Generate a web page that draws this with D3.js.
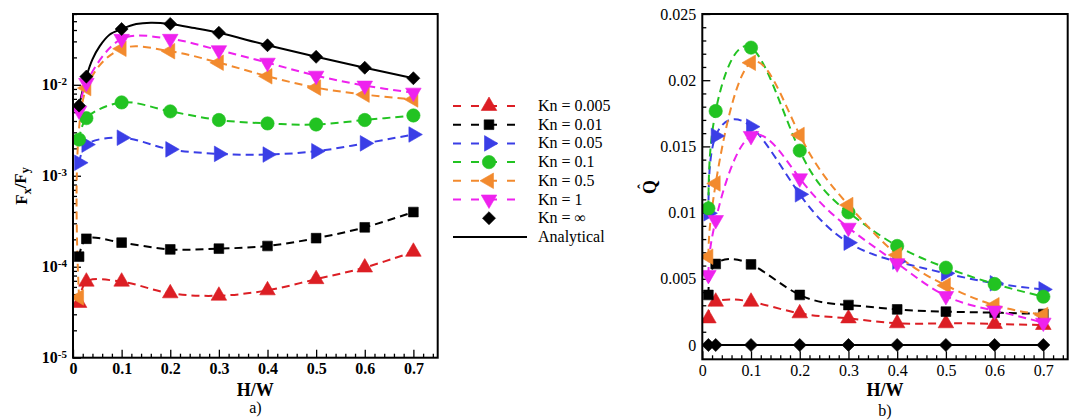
<!DOCTYPE html>
<html>
<head>
<meta charset="utf-8">
<script src="https://cdn.jsdelivr.net/npm/d3@7"></script>
<style>
  body { margin: 0; background: #fff; }
  svg { display: block; }
</style>
</head>
<body>
<svg id="chart" width="1073" height="420"></svg>
<script>
// H/W values where the simulations were run
const hw = [0.0125, 0.0275, 0.1, 0.2, 0.3, 0.4, 0.5, 0.6, 0.7];

// Panel a) : F_x/F_y (log scale)
const forceKn0005 = [4.0e-5, 6.85e-5, 6.85e-5, 5.1e-5, 4.8e-5, 5.5e-5, 7.3e-5, 9.8e-5, 1.46e-4];
const forceKn001 = [1.29e-4, 2.03e-4, 1.84e-4, 1.55e-4, 1.58e-4, 1.69e-4, 2.06e-4, 2.71e-4, 3.99e-4];
const forceKn005 = [0.00139, 0.0022, 0.00262, 0.00195, 0.00174, 0.00171, 0.00186, 0.00227, 0.00284];
const forceKn01 = [0.0025, 0.0043, 0.0064, 0.0051, 0.0041, 0.00376, 0.00366, 0.0041, 0.0046];
const forceKn05 = [4.6e-5, 0.0092, 0.0249, 0.0234, 0.0175, 0.0124, 0.0093, 0.0078, 0.0069];
const forceKn1 = [0.0052, 0.0105, 0.032, 0.032, 0.024, 0.0175, 0.0126, 0.0098, 0.0082];
const forceKnInf = [0.0059, 0.0123, 0.041, 0.0467, 0.0373, 0.0272, 0.0203, 0.0154, 0.0118];

// analytical curve for panel a)
const analyticalHw = [0.0125, 0.0275, 0.04, 0.055, 0.075, 0.1, 0.13, 0.16, 0.2, 0.25, 0.3, 0.4, 0.5, 0.6, 0.7];
const analyticalForce = [0.0059, 0.0123, 0.019, 0.0266, 0.0355, 0.041, 0.0465, 0.0482, 0.0467, 0.042, 0.0373, 0.0272, 0.0203, 0.0154, 0.0118];

// Panel b) : Q hat
const flowKn0005 = [0.00201, 0.00327, 0.00327, 0.00239, 0.00201, 0.00164, 0.00164, 0.00159, 0.00151];
const flowKn001 = [0.00378, 0.00612, 0.00609, 0.00378, 0.00302, 0.00269, 0.00252, 0.00244, 0.00234];
const flowKn005 = [0.00995, 0.01579, 0.01649, 0.01138, 0.00773, 0.0063, 0.00541, 0.00466, 0.0042];
const flowKn01 = [0.01032, 0.01767, 0.02246, 0.01468, 0.01002, 0.00748, 0.00584, 0.00461, 0.00365];
const flowKn05 = [0.00667, 0.0122, 0.02132, 0.01586, 0.01057, 0.0068, 0.0045, 0.003, 0.00227];
const flowKn1 = [0.00529, 0.00944, 0.01579, 0.01259, 0.00886, 0.00617, 0.0037, 0.0026, 0.00169];
const flowKnInf = [0, 0, 0, 0, 0, 0, 0, 0, 0];
const analyticalFlow = [0, 0, 0, 0, 0, 0, 0, 0, 0];

const legendLabels = ['Kn = 0.005', 'Kn = 0.01', 'Kn = 0.05', 'Kn = 0.1', 'Kn = 0.5', 'Kn = 1', 'Kn = \u221E', 'Analytical'];
const xTicks = [0, 0.1, 0.2, 0.3, 0.4, 0.5, 0.6, 0.7];
const logTicks = [1e-5, 1e-4, 1e-3, 1e-2];
const flowTicks = [0, 0.005, 0.01, 0.015, 0.02, 0.025];

const SERIF = '"Liberation Serif", "Times New Roman", "DejaVu Serif", serif';

// series styles
const series = [
  { name: legendLabels[0], color: '#dc1e24', marker: 'up', force: forceKn0005, flow: flowKn0005 },
  { name: legendLabels[1], color: '#000000', marker: 'square', force: forceKn001, flow: flowKn001 },
  { name: legendLabels[2], color: '#3a3ee6', marker: 'right', force: forceKn005, flow: flowKn005 },
  { name: legendLabels[3], color: '#22c322', marker: 'circle', force: forceKn01, flow: flowKn01 },
  { name: legendLabels[4], color: '#f28a2e', marker: 'left', force: forceKn05, flow: flowKn05 },
  { name: legendLabels[5], color: '#ee22ee', marker: 'down', force: forceKn1, flow: flowKn1 },
  { name: legendLabels[6], color: '#000000', marker: 'diamond', force: forceKnInf, flow: flowKnInf, noLine: true }
];

const markerShapes = {
  up: { type: d3.symbolTriangle, size: 105, rot: 0 },
  down: { type: d3.symbolTriangle, size: 105, rot: 180 },
  left: { type: d3.symbolTriangle, size: 105, rot: -90 },
  right: { type: d3.symbolTriangle, size: 105, rot: 90 },
  square: { type: d3.symbolSquare, size: 95, rot: 0 },
  diamond: { type: d3.symbolSquare, size: 85, rot: 45 },
  circle: { type: d3.symbolCircle, size: 140, rot: 0 }
};

const svg = d3.select('#chart').style('font-family', SERIF);

function addMarker(g, kind, x, y, color) {
  const m = markerShapes[kind];
  g.append('path')
    .attr('d', d3.symbol().type(m.type).size(m.size)())
    .attr('transform', `translate(${x},${y}) rotate(${m.rot})`)
    .attr('fill', color)
    .attr('stroke', color)
    .attr('stroke-width', 0.6);
}

// один графік
function drawPanel(opts) {
  const { left, right, top, bottom, id } = opts;
  const x = d3.scaleLinear().domain([0, 0.75]).range([left, right]);
  const y = opts.yScale.range([bottom, top]);

  svg.append('clipPath').attr('id', id)
    .append('rect').attr('x', left).attr('y', top).attr('width', right - left).attr('height', bottom - top);

  // x axis (ticks inside)
  const gx = svg.append('g').attr('transform', `translate(0, ${bottom})`)
    .call(d3.axisBottom(x).tickValues(xTicks).tickSize(-8).tickPadding(5)
      .tickFormat(d => d === 0 ? '0' : d3.format('.1f')(d)));
  gx.attr('font-family', SERIF);
  gx.selectAll('.tick text').style('font-family', SERIF).style('font-size', '16px')
    .style('font-weight', opts.boldTicks ? 'bold' : 'normal');
  svg.append('g').attr('transform', `translate(0, ${bottom})`)
    .call(d3.axisBottom(x).tickValues(d3.range(0, 0.751, 0.02).filter(v => Math.abs(v * 10 - Math.round(v * 10)) > 1e-6)).tickSize(-4).tickFormat(''));

  // y axis
  const gy = svg.append('g').attr('transform', `translate(${left}, 0)`)
    .call(d3.axisLeft(y).tickValues(opts.yTicks).tickSize(-8).tickPadding(6).tickFormat(opts.yFormat));
  gy.attr('font-family', SERIF);
  gy.selectAll('.tick text').style('font-family', SERIF).style('font-size', '16px')
    .style('font-weight', opts.boldTicks ? 'bold' : 'normal');
  if (opts.superscript) {
    gy.selectAll('.tick text').each(function (d) {
      const t = d3.select(this);
      t.text('10');
      t.append('tspan').attr('dy', '-0.45em').style('font-size', '11px').text(Math.round(Math.log10(d)));
    });
  }
  svg.append('g').attr('transform', `translate(${left}, 0)`)
    .call(d3.axisLeft(y).tickValues(opts.yMinor).tickSize(-4).tickFormat(''));

  svg.selectAll('.domain').style('stroke', 'none');
  svg.selectAll('.tick line').style('stroke', '#000').style('stroke-width', 1.3);

  const plot = svg.append('g').attr('clip-path', `url(#${id})`);
  const line = d3.line().curve(opts.curve).x(d => x(d[0])).y(d => y(d[1]));

  // analytical solid line
  plot.append('path')
    .datum(opts.analyticalX.map((v, i) => [v, opts.analyticalY[i]]))
    .attr('d', line).attr('fill', 'none').attr('stroke', '#000').attr('stroke-width', 2);

  series.forEach(s => {
    const pts = hw.map((v, i) => [v, s[opts.key][i]]);
    if (!s.noLine) {
      plot.append('path').datum(pts).attr('d', line)
        .attr('fill', 'none').attr('stroke', s.color).attr('stroke-width', 2)
        .attr('stroke-dasharray', '8,5');
    }
  });
  series.forEach(s => {
    hw.forEach((v, i) => addMarker(plot, s.marker, x(v), y(s[opts.key][i]), s.color));
  });

  // frame
  svg.append('rect').attr('x', left).attr('y', top).attr('width', right - left).attr('height', bottom - top)
    .attr('fill', 'none').attr('stroke', '#000').attr('stroke-width', 2);

  // H/W title and panel letter
  const cx = (left + right) / 2;
  svg.append('text').attr('x', cx).attr('y', 396).attr('text-anchor', 'middle')
    .style('font-size', '18px').style('font-weight', 'bold').text('H/W');
  svg.append('text').attr('x', cx).attr('y', opts.letterY).attr('text-anchor', 'middle')
    .style('font-size', '16px').text(opts.letter);
}

const logMinor = [];
[1e-5, 1e-4, 1e-3, 1e-2].forEach(p => { for (let k = 2; k <= 9; k++) if (p * k <= 0.06) logMinor.push(p * k); });

drawPanel({
  id: 'clipA', key: 'force', left: 73, right: 437.7, top: 14, bottom: 357.7,
  yScale: d3.scaleLog().domain([1e-5, 0.06]),
  yTicks: logTicks, yMinor: logMinor, yFormat: d => '', superscript: true, boldTicks: true,
  curve: d3.curveCatmullRom.alpha(0.5),
  analyticalX: analyticalHw, analyticalY: analyticalForce, letter: 'a)', letterY: 413
});

drawPanel({
  id: 'clipB', key: 'flow', left: 702.3, right: 1067.7, top: 14, bottom: 359.3,
  yScale: d3.scaleLinear().domain([-0.00108, 0.025]),
  yTicks: flowTicks, yMinor: d3.range(0, 0.0251, 0.001).filter((v, i) => i % 5 !== 0),
  yFormat: d => d === 0 ? '0' : String(+d.toFixed(3)), superscript: false, boldTicks: false,
  curve: d3.curveNatural,
  analyticalX: hw, analyticalY: analyticalFlow, letter: 'b)', letterY: 416
});

// y axis titles
const fTitle = svg.append('text').attr('transform', 'translate(27, 186) rotate(-90)')
  .attr('text-anchor', 'middle').style('font-size', '17px').style('font-weight', 'bold');
fTitle.append('tspan').text('F');
fTitle.append('tspan').attr('dy', '0.3em').style('font-size', '12px').text('x');
fTitle.append('tspan').attr('dy', '-0.3em').text('/F');
fTitle.append('tspan').attr('dy', '0.3em').style('font-size', '12px').text('y');

// Q with hat: the hat is a separate glyph so it shows even if the combining mark is dropped
const qTitle = svg.append('text').attr('transform', 'translate(656, 187) rotate(-90)')
  .attr('text-anchor', 'middle').style('font-size', '18px').style('font-weight', 'bold');
qTitle.append('tspan').text('Q');
qTitle.append('tspan').attr('dx', '-0.62em').attr('dy', '-0.55em').style('font-size', '14px').text('\u02C6');

// legend
const legend = svg.append('g');
legendLabels.forEach((label, i) => {
  const ly = 106 + i * 18.7;
  if (i < 6) {
    legend.append('line').attr('x1', 453).attr('x2', 517).attr('y1', ly).attr('y2', ly)
      .attr('stroke', series[i].color).attr('stroke-width', 2).attr('stroke-dasharray', '8,10');
  }
  if (i < 7) addMarker(legend, series[i].marker, 489, ly, series[i].color);
  if (i === 7) {
    legend.append('line').attr('x1', 453).attr('x2', 527).attr('y1', ly).attr('y2', ly)
      .attr('stroke', '#000').attr('stroke-width', 2);
  }
  legend.append('text').attr('x', 538).attr('y', ly + 5).style('font-size', '16px').text(label);
});
</script>
</body>
</html>
